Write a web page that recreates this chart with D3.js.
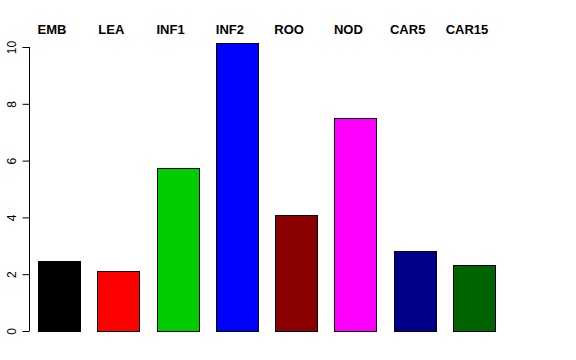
<!DOCTYPE html>
<html>
<head>
<meta charset="utf-8">
<script src="https://cdn.jsdelivr.net/npm/d3@7"></script>
<style>
  body { margin: 0; background: #fff; }
</style>
</head>
<body>
<div id="my_dataviz"></div>
<script>
// data
var categories = ["EMB", "LEA", "INF1", "INF2", "ROO", "NOD", "CAR5", "CAR15"];
var values = [2.46, 2.13, 5.75, 10.15, 4.08, 7.5, 2.82, 2.31];
var barColors = ["#000000", "#ff0000", "#00cd00", "#0000ff", "#8b0000", "#ff00ff", "#00008b", "#006400"];
var yTicks = [0, 2, 4, 6, 8, 10];

// dimensions
var width = 576, height = 360;

var svg = d3.select("#my_dataviz")
  .append("svg")
    .attr("width", width)
    .attr("height", height)
    .style("font-family", "'Liberation Sans', Arial, sans-serif");

// X scale (bars)
var x = d3.scaleBand()
  .domain(categories)
  .range([38, 495])
  .paddingInner(0.29)
  .paddingOuter(0);

// Y scale
var y = d3.scaleLinear()
  .domain([0, 10])
  .range([331, 47]);

// Y axis, R style
var yAxis = svg.append("g")
  .attr("transform", "translate(29.5,0)")
  .call(d3.axisLeft(y).tickValues(yTicks).tickSize(7).tickPadding(0).tickFormat(d3.format("d")));

yAxis.select(".domain")
  .attr("d", "M0," + y(0) + "V" + y(10))
  .attr("stroke", "#000");
yAxis.selectAll(".tick line").attr("stroke", "#000");
yAxis.selectAll(".tick text")
  .attr("x", 0)
  .attr("y", 0)
  .attr("dy", 0)
  .attr("transform", "translate(-14,0) rotate(-90)")
  .attr("text-anchor", "middle")
  .attr("font-size", 12)
  .attr("font-family", "'Liberation Sans', Arial, sans-serif")
  .attr("fill", "#000");

// bars
svg.selectAll(".bar")
  .data(values)
  .enter()
  .append("rect")
    .attr("class", "bar")
    .attr("x", function(d, i) { return Math.round(x(categories[i])) + 0.5; })
    .attr("y", function(d) { return Math.round(y(d)) + 0.5; })
    .attr("width", Math.round(x.bandwidth()))
    .attr("height", function(d) { return Math.round(y(0)) - Math.round(y(d)); })
    .attr("fill", function(d, i) { return barColors[i]; })
    .attr("stroke", "#000")
    .attr("stroke-width", 1);

// category labels on top
svg.selectAll(".lab")
  .data(categories)
  .enter()
  .append("text")
    .attr("class", "lab")
    .attr("x", function(d) { return x(d) + x.bandwidth() / 2 - 7; })
    .attr("y", 34)
    .attr("text-anchor", "middle")
    .attr("font-size", 13)
    .attr("font-weight", "bold")
    .attr("fill", "#000")
    .text(function(d) { return d; });
</script>
</body>
</html>
